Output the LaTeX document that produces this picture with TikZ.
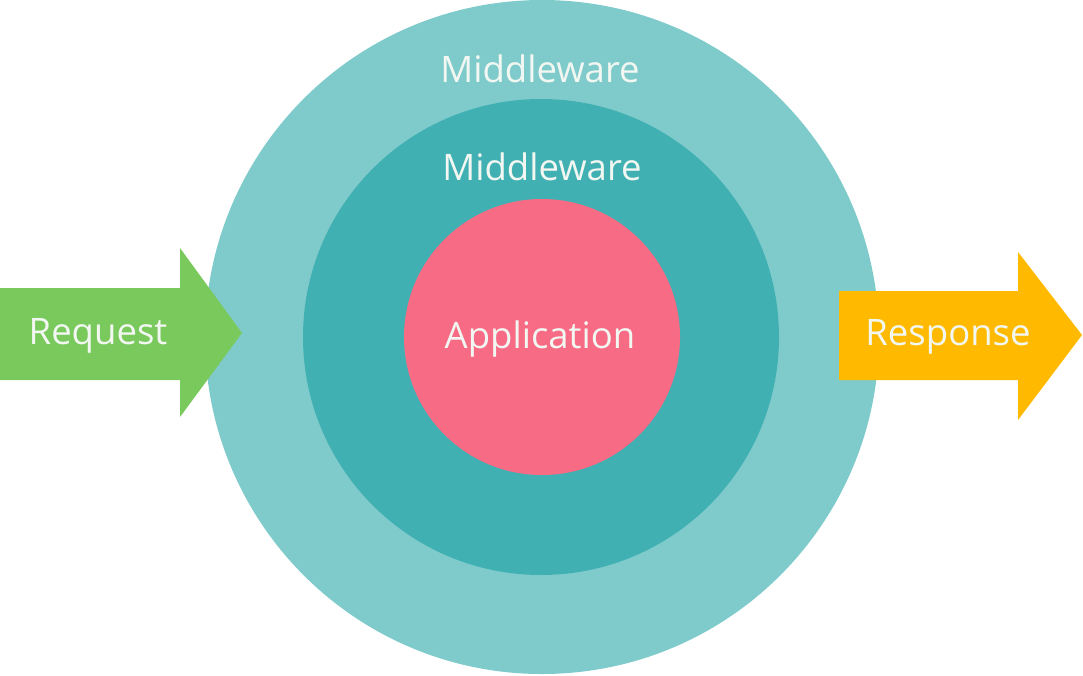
\documentclass[tikz,border=0pt]{standalone}
\usepackage{fontspec}
\setmainfont{Open Sans}
\definecolor{outerc}{HTML}{7FCBCB}
\definecolor{midc}{HTML}{41B0B3}
\definecolor{appc}{HTML}{F76B85}
\definecolor{reqc}{HTML}{7AC95C}
\definecolor{resc}{HTML}{FFBA00}
\definecolor{txtc}{HTML}{F2F7F2}
\begin{document}
\begin{tikzpicture}[x=1pt,y=-1pt,
  ring/.style={circle,inner sep=0pt,draw=none},
  lbl/.style={text=txtc,font=\fontsize{36.5}{42}\selectfont,inner sep=0pt}]
\useasboundingbox (0,0) rectangle (1083,675);
\node[ring,fill=outerc,minimum size=674pt] (outer) at (542,337) {};
\node[ring,fill=midc,minimum size=476pt] (middle) at (541,337) {};
\node[ring,fill=appc,minimum size=276pt] (app) at (542,337) {};
% request arrow
\fill[reqc] (0,288) -- (180,288) -- (180,248) -- (242,333) -- (180,417) -- (180,380) -- (0,380) -- cycle;
% response arrow
\fill[resc] (839,291) -- (1018,291) -- (1018,252) -- (1082,335) -- (1018,420) -- (1018,380) -- (839,380) -- cycle;
\node[lbl] (m1) at (540,69) {Middleware};
\node[lbl] (m2) at (542,167) {Middleware};
\node[lbl] (appl) at (540,339) {Application};
\node[lbl] (req) at (98,336) {Request};
\node[lbl] (res) at (948,337) {Response};
\end{tikzpicture}
\end{document}
